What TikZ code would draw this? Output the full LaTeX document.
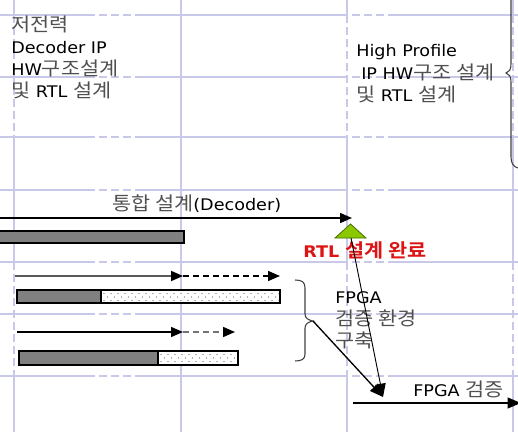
\documentclass[tikz,border=0pt]{standalone}
\usepackage{fontspec}
\setmainfont{DejaVu Sans}[FakeStretch=1.1]
\newfontfamily\kr{Noto Sans CJK KR}[Scale=1.18,FakeStretch=1.1,BoldFont={Noto Sans CJK KR Bold}]
\usetikzlibrary{arrows.meta}
\definecolor{gridc}{RGB}{200,200,232}
\definecolor{barg}{RGB}{128,128,128}
\definecolor{msgreen}{RGB}{140,200,0}
\definecolor{msedge}{RGB}{70,110,0}
\definecolor{rtlred}{RGB}{220,20,20}
\definecolor{krgray}{RGB}{80,80,80}
\tikzset{
  gridline/.style={gridc, line width=1.1pt},
  gridd/.style={gridc, line width=1.1pt, dash pattern=on 6pt off 3pt},
  lbl/.style={inner sep=0pt, anchor=base west, font=\fontsize{12}{14}\selectfont},
  tip/.style={-{Triangle[length=9pt,width=7.5pt]}},
  solidarr/.style={tip, line width=1.1pt, black},
  dasharr/.style={-{Triangle[length=9pt,width=7.5pt,black]}, line width=1.1pt, dash pattern=on 4.5pt off 3pt},
  barbox/.style={draw=black, line width=1pt},
  bracestyle/.style={draw=black!75, line width=0.8pt},
}
\newcommand{\mydotbox}[4]{% x1 y1 x2 y2
  \fill[white] (#1,#2) rectangle (#3,#4);
  \begin{scope}
  \clip (#1,#2) rectangle (#3,#4);
  \foreach \xx in {0,7,...,200} {
    \fill[black!60] ({#1+3+\xx},{#2+3.5}) circle (0.7);
    \fill[black!60] ({#1+6.5+\xx},{#2+7}) circle (0.7);
    \fill[black!60] ({#1+3+\xx},{#2+10.5}) circle (0.7);
  }
  \end{scope}
}
\begin{document}
\begin{tikzpicture}[x=0.75pt,y=-0.75pt]
\useasboundingbox (0,0) rectangle (518,432);
% grid
\foreach \y in {15,77,137,190,262,314,376} {
  \draw[gridline] (0,\y) -- (87,\y);
  \draw[gridd] (87,\y) -- (140,\y);
  \draw[gridline] (140,\y) -- (340,\y);
  \draw[gridd] (340,\y) -- (395,\y);
  \draw[gridline] (395,\y) -- (518,\y);
}
\foreach \x in {14,347,513} {
  \draw[gridline] (\x,0) -- (\x,15);
  \draw[gridd] (\x,15) -- (\x,137);
  \draw[gridline] (\x,137) -- (\x,262);
  \draw[gridd] (\x,262) -- (\x,376);
  \draw[gridline] (\x,376) -- (\x,432);
}
\draw[gridline] (181,0) -- (181,432);

% left text block
\node[lbl, krgray] (t1) at (11,31.5) {\kr 저전력};
\node[lbl] (t2) at (11,53.5) {Decoder IP};
\node[lbl] (t3) at (11,75.5) {HW{\kr\color{krgray}구조설계}};
\node[lbl] (t4) at (11,97.5) {{\kr\color{krgray}및} RTL {\kr\color{krgray}설계}};

% right text block
\node[lbl] (r1) at (356,56.5) {High Profile};
\node[lbl] (r2) at (361,79) {IP HW{\kr\color{krgray}구조 설계}};
\node[lbl] (r3) at (356,101.5) {{\kr\color{krgray}및} RTL {\kr\color{krgray}설계}};

% right brace
\draw[bracestyle] (511,-2) -- (511,64) .. controls (511,70) and (509,72) .. (506,73)
  .. controls (509,74) and (511,76) .. (511,82) -- (511,157)
  .. controls (511,164) and (514,167) .. (518,168);

% integrated design arrow
\node[lbl] (intg) at (112,210) {{\kr\color{krgray}통합 설계}(Decoder)};
\coordinate (a1s) at (-2,218);
\coordinate (a1e) at (352,218);
\draw[solidarr] (a1s) -- (a1e);
\fill[barg] (-2,231) rectangle (184,243);
\draw[barbox] (-2,231) rectangle (184,243);

% milestone
\draw[fill=msgreen, draw=msedge, line width=0.6pt] (350.5,224) -- (366,238) -- (335,238) -- cycle;
\coordinate (ms) at (351,238);
\node[lbl, text=rtlred, font=\fontsize{12}{14}\selectfont\bfseries] (rtl) at (303,257) {RTL {\kr 설계 완료}};

% row 2
\coordinate (b2s) at (15,276);
\coordinate (b2m) at (183,276);
\coordinate (b2e) at (280,276);
\draw[-{Triangle[length=9pt,width=7.5pt,black]}, line width=1.3pt, black!65] (b2s) -- (b2m);
\draw[dasharr, black] (b2m) -- (b2e);
\fill[barg] (17,290) rectangle (101,303);
\mydotbox{101}{290}{280}{303}
\draw[barbox] (17,290) rectangle (280,303);
\draw[barbox] (101,290) -- (101,303);

% row 3
\coordinate (b3s) at (17,332);
\coordinate (b3m) at (183,332);
\coordinate (b3e) at (235,332);
\draw[solidarr] (b3s) -- (b3m);
\draw[dasharr, black!55] (b3m) -- (b3e);
\fill[barg] (19,351) rectangle (158,365);
\mydotbox{158}{351}{238}{365}
\draw[barbox] (19,351) rectangle (238,365);
\draw[barbox] (158,351) -- (158,365);

% group brace
\draw[bracestyle] (295,280) .. controls (302,280) and (305,282) .. (305,288) -- (305,314)
  .. controls (305,318) and (308,320) .. (313,321)
  .. controls (308,322) and (305,324) .. (305,328) -- (305,354)
  .. controls (305,359) and (302,361) .. (295,361);
\coordinate (bt) at (313,321);

% group label
\node[lbl] (g1) at (335,303) {FPGA};
\node[lbl, krgray] (g2) at (335,325) {\kr 검증 환경};
\node[lbl, krgray] (g3) at (335,347) {\kr 구축};

% converging arrows
\coordinate (fv) at (383,397);
\draw[-{Triangle[length=10pt,width=8pt]}, line width=0.7pt] (ms) -- (fv);
\draw[-{Triangle[length=10pt,width=8pt]}, line width=1pt] (bt) -- (fv);

% FPGA verification
\node[lbl] (fpv) at (413,396) {FPGA {\kr\color{krgray}검증}};
\coordinate (f2s) at (353,403);
\coordinate (f2e) at (521,403);
\draw[-{Triangle[length=10pt,width=8pt]}, line width=1.4pt] (f2s) -- (f2e);
\end{tikzpicture}
\end{document}
